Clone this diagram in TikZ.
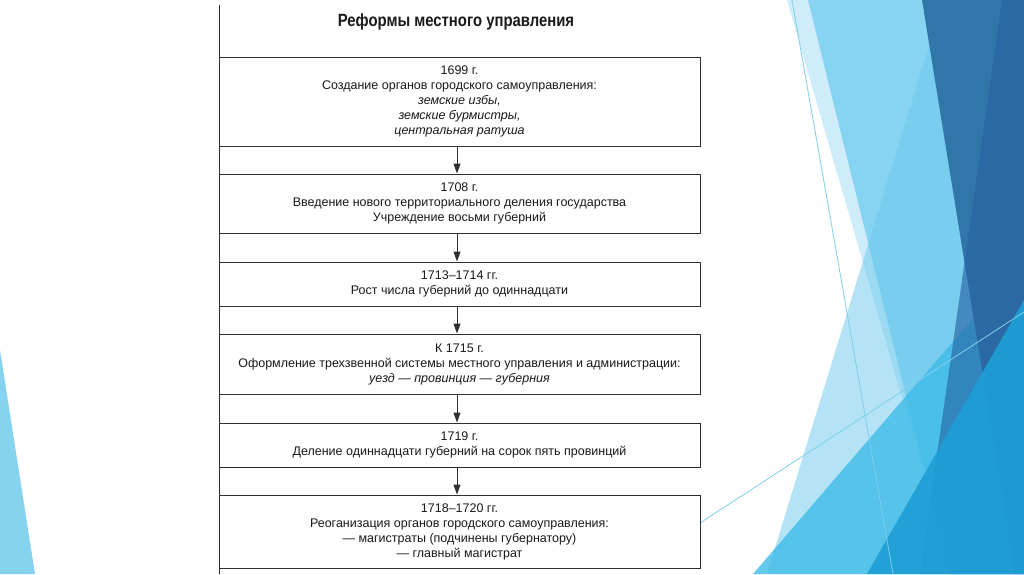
\documentclass[tikz,border=0pt]{standalone}
\usepackage{fontspec}
\setmainfont{Liberation Sans}
\newfontfamily\titlefont[FakeStretch=0.84]{Liberation Sans}
\usetikzlibrary{arrows.meta}
\definecolor{linec}{HTML}{303030}
\definecolor{txt}{HTML}{1A1A1A}
\definecolor{cstrip}{HTML}{A6DEF5}
\definecolor{clight}{HTML}{5CC5EE}
\definecolor{cpale}{HTML}{6CC9EE}
\definecolor{cbottom}{HTML}{3FBCE8}
\definecolor{cdark}{HTML}{3176A9}
\definecolor{cmid}{HTML}{2662A2}
\definecolor{cbright}{HTML}{1E9FD5}
\definecolor{csliver}{HTML}{86D3F0}
\definecolor{cthin}{HTML}{7FCFEA}
\begin{document}
\begin{tikzpicture}[x=1pt,y=-1pt,
  box/.style={draw=linec, line width=1pt, minimum width=481pt, inner sep=0pt,
    align=center, text=txt, font=\fontsize{12.5}{15}\selectfont},
  arr/.style={-{Stealth[length=10pt,width=7pt,inset=0pt]}, draw=linec, line width=1pt},
  frame/.style={draw=linec, line width=1pt},
  thin/.style={draw=cthin, line width=0.8pt}]
\useasboundingbox (0,0) rectangle (1024,574);
\fill[white] (0,0) rectangle (1024,574);
% background facets
\fill[csliver] (0,350) -- (35,574) -- (0,574) -- cycle;
\fill[cstrip, opacity=0.55] (787,0) -- (1024,0) -- (1024,574) -- (953,574) -- cycle;
\fill[clight, opacity=0.62] (808,0) -- (1024,0) -- (1024,574) -- (950,574) -- cycle;
\fill[cpale, opacity=0.5] (943,0) -- (1024,0) -- (1024,574) -- (767,574) -- cycle;
\fill[cbottom, opacity=0.8] (753,574) -- (1024,259) -- (1024,574) -- cycle;
\fill[cdark] (922,0) -- (1024,0) -- (1024,574) -- (1015,574) -- cycle;
\fill[cmid, opacity=0.62] (1002,0) -- (1024,0) -- (1024,574) -- (920,574) -- cycle;
\fill[cbright, opacity=0.92] (867,574) -- (1024,300) -- (1024,574) -- cycle;
\coordinate (ta1) at (792,0);
\coordinate (ta2) at (893,574);
\coordinate (tb1) at (700,523);
\coordinate (tb2) at (1024,312);
\draw[thin] (ta1) -- (ta2);
\draw[thin] (tb1) -- (tb2);
% diagram
\node[font=\titlefont\bfseries\fontsize{17.7}{20}\selectfont, text=txt] (title) at (456,22) {Реформы местного управления};
\coordinate (ltop) at (219,5);
\coordinate (lbot) at (219,574);
\draw[frame] (ltop) -- (lbot);
\node[box, minimum height=89pt] (b1) at (459.5,101.5)
  {1699 г.\\Создание органов городского самоуправления:\\\textit{земские избы,}\\\textit{земские бурмистры,}\\\textit{центральная ратуша}};
\node[box, minimum height=59pt] (b2) at (459.5,203.5)
  {1708 г.\\Введение нового территориального деления государства\\Учреждение восьми губерний};
\node[box, minimum height=44pt] (b3) at (459.5,284)
  {1713–1714 гг.\\Рост числа губерний до одиннадцати};
\node[box, minimum height=60pt] (b4) at (459.5,364)
  {К 1715 г.\\Оформление трехзвенной системы местного управления и администрации:\\\textit{уезд — провинция — губерния}};
\node[box, minimum height=44pt] (b5) at (459.5,445)
  {1719 г.\\Деление одиннадцати губерний на сорок пять провинций};
\node[box, minimum height=73pt] (b6) at (459.5,531.5)
  {1718–1720 гг.\\Реоганизация органов городского самоуправления:\\— магистраты (подчинены губернатору)\\— главный магистрат};
\coordinate (ax) at (457,0);
\draw[arr] (b1.south -| ax) -- (b2.north -| ax);
\draw[arr] (b2.south -| ax) -- (b3.north -| ax);
\draw[arr] (b3.south -| ax) -- (b4.north -| ax);
\draw[arr] (b4.south -| ax) -- (b5.north -| ax);
\draw[arr] (b5.south -| ax) -- (b6.north -| ax);
\end{tikzpicture}
\end{document}
